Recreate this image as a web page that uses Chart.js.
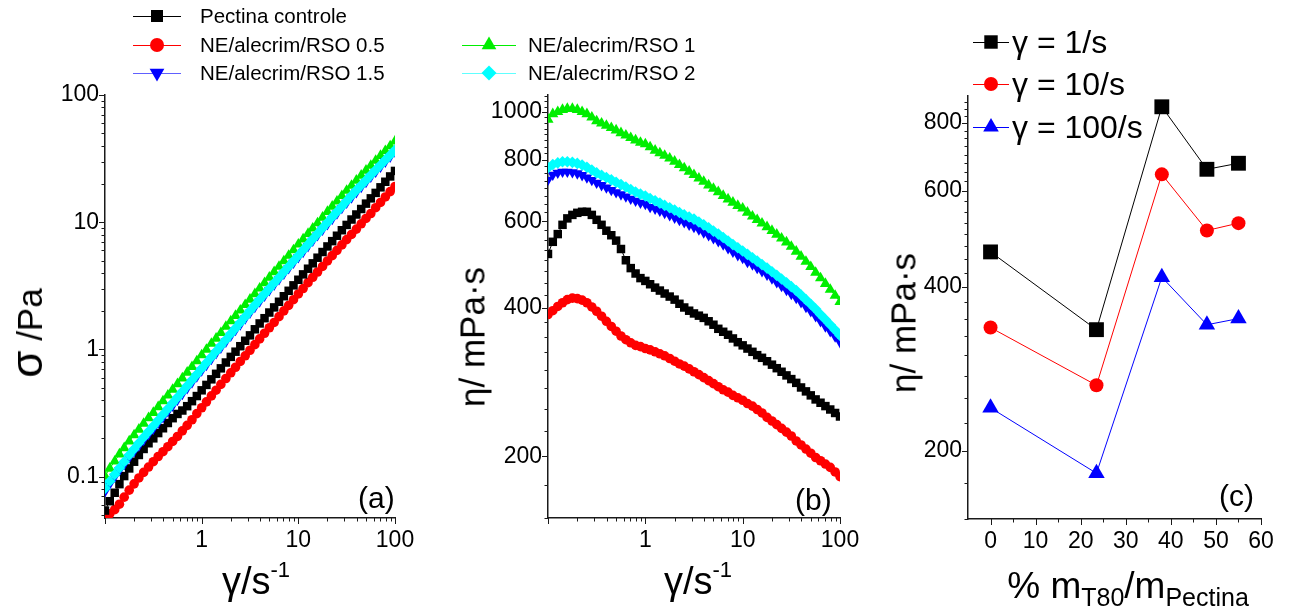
<!DOCTYPE html>
<html>
<head>
<meta charset="utf-8">
<script src="https://cdn.jsdelivr.net/npm/chart.js@4.4.1/dist/chart.umd.min.js"></script>
<style>
  body { margin: 0; background: #fff; }
  #wrap { position: relative; width: 1289px; height: 609px; overflow: hidden;
          font-family: "Liberation Sans", Arial, sans-serif; color: #000; }
  .layer { position: absolute; left: 0; top: 0; }
  .t { position: absolute; white-space: nowrap; line-height: 1; }
  .c { transform: translate(-50%, -50%); }
  .rot { transform: translate(-50%, -50%) rotate(-90deg); }
  .leg { position: absolute; white-space: nowrap; line-height: 1; transform: translateY(-50%); }
  .sym { position: absolute; }
</style>
</head>
<body>
<div id="wrap">
  <canvas id="chartA" class="layer" width="1289" height="609"></canvas>
  <canvas id="chartB" class="layer" width="1289" height="609"></canvas>
  <canvas id="chartC" class="layer" width="1289" height="609"></canvas>

  <!-- axis titles -->
  <div class="t rot" style="left:27px;top:333px;font-size:35px"><span style="font-size:44px">σ</span> /Pa</div>
  <div class="t c" style="left:256px;top:581px;font-size:38px">γ/s<sup style="font-size:22px;vertical-align:0;position:relative;top:-17px">-1</sup></div>
  <div class="t rot" style="left:472px;top:337px;font-size:35px">η/ mPa·s</div>
  <div class="t c" style="left:698px;top:581px;font-size:38px">γ/s<sup style="font-size:22px;vertical-align:0;position:relative;top:-17px">-1</sup></div>
  <div class="t rot" style="left:903px;top:323px;font-size:35px">η/ mPa·s</div>
  <div class="t c" style="left:1128px;top:585px;font-size:37px">% m<sub style="font-size:25px;vertical-align:0;position:relative;top:8px">T80</sub>/m<sub style="font-size:25px;vertical-align:0;position:relative;top:8px">Pectina</sub></div>

  <!-- panel labels -->
  <div class="t" style="left:358px;top:483px;font-size:30px">(a)</div>
  <div class="t" style="left:795px;top:485px;font-size:30px">(b)</div>
  <div class="t" style="left:1219px;top:481px;font-size:30px">(c)</div>

  <div id="legends"></div>
</div>

<script>
// ── shear-rate sweep (s^-1), panels (a) and (b) ──
const shearRate = [0.1,0.112,0.126,0.141,0.158,0.178,0.2,0.224,0.251,0.282,0.316,0.355,0.398,0.447,0.501,0.562,0.631,0.708,0.794,0.891,
  1,1.12,1.26,1.41,1.58,1.78,2,2.24,2.51,2.82,3.16,3.55,3.98,4.47,5.01,5.62,6.31,7.08,7.94,8.91,
  10,11.2,12.6,14.1,15.8,17.8,20,22.4,25.1,28.2,31.6,35.5,39.8,44.7,50.1,56.2,63.1,70.8,79.4,89.1,100];

// ── shear stress σ (Pa), panel (a) ──
const sigmaPectina = [0.0541,0.0641,0.0747,0.0873,0.101,0.116,0.131,0.148,0.165,0.183,0.200,0.220,0.240,0.264,0.288,0.311,0.331,0.358,0.392,0.430,
  0.477,0.526,0.582,0.643,0.710,0.789,0.874,0.960,1.06,1.17,1.29,1.44,1.60,1.76,1.95,2.14,2.37,2.62,2.89,3.19,
  3.53,3.89,4.31,4.75,5.26,5.83,6.45,7.10,7.83,8.65,9.52,10.5,11.5,12.7,14.0,15.4,17.0,18.8,20.8,22.9,25.3];
const sigmaRSO05 = [0.047,0.051,0.055,0.0607,0.069,0.0783,0.0878,0.0976,0.108,0.119,0.131,0.144,0.157,0.172,0.189,0.207,0.229,0.253,0.280,0.313,
  0.348,0.387,0.431,0.478,0.531,0.591,0.655,0.724,0.804,0.891,0.985,1.09,1.21,1.34,1.48,1.63,1.81,2.01,2.22,2.46,
  2.73,3.01,3.35,3.69,4.06,4.49,4.96,5.46,6.01,6.63,7.30,8.01,8.82,9.72,10.7,11.7,13.0,14.3,15.8,17.4,19.1];
const sigmaRSO1 = [0.101,0.116,0.132,0.150,0.168,0.190,0.212,0.235,0.261,0.289,0.318,0.353,0.392,0.436,0.483,0.535,0.594,0.659,0.730,0.810,
  0.903,0.997,1.11,1.22,1.35,1.51,1.67,1.84,2.03,2.24,2.47,2.73,3.02,3.33,3.68,4.06,4.48,4.94,5.46,6.03,
  6.69,7.35,8.12,8.94,9.85,10.9,12.1,13.3,14.6,16.1,17.7,19.4,21.3,23.3,25.5,27.9,30.5,33.3,36.4,39.7,43.3];
const sigmaRSO15 = [0.0764,0.0876,0.0995,0.112,0.125,0.141,0.158,0.175,0.194,0.215,0.238,0.265,0.293,0.326,0.361,0.401,0.446,0.495,0.550,0.612,
  0.683,0.754,0.841,0.933,1.03,1.15,1.28,1.42,1.57,1.75,1.94,2.15,2.38,2.64,2.91,3.22,3.56,3.93,4.34,4.79,
  5.30,5.83,6.48,7.14,7.88,8.73,9.64,10.6,11.7,12.9,14.2,15.6,17.2,18.9,20.7,22.7,24.9,27.3,29.9,32.7,35.8];
const sigmaRSO2 = [0.0809,0.0920,0.104,0.117,0.131,0.148,0.165,0.184,0.204,0.226,0.250,0.277,0.308,0.342,0.379,0.420,0.466,0.517,0.574,0.637,
  0.709,0.784,0.873,0.967,1.07,1.19,1.33,1.47,1.63,1.81,2.01,2.23,2.47,2.73,3.01,3.33,3.68,4.07,4.49,4.96,
  5.48,6.05,6.69,7.37,8.13,9.01,9.95,11.0,12.1,13.3,14.7,16.2,17.8,19.5,21.4,23.5,25.7,28.2,30.9,33.8,37.0];

// ── viscosity η (mPa·s), panel (b) ──
const etaPectina = [515,545,565,590,608,618,624,627,627,618,604,590,574,562,548,527,500,482,470,460,
  454,447,440,434,428,422,416,408,401,395,390,386,382,376,370,363,358,353,347,341,
  336,331,326,321,317,312,307,302,297,292,287,282,276,271,266,261,257,253,249,245,241];
const etaRSO05 = [388,395,403,410,416,419,418,415,410,402,394,385,376,367,359,351,345,340,336,334,
  331,329,326,323,320,316,312,308,305,301,297,293,289,285,281,277,273,270,266,263,
  260,256,253,249,245,240,236,232,228,224,220,215,211,207,203,199,196,193,190,186,182];
const etaRSO1 = [965,990,1000,1010,1015,1015,1010,1000,990,975,958,948,938,928,918,906,896,886,876,866,
  860,848,835,825,815,805,793,781,769,757,745,733,722,710,699,688,676,665,655,645,
  637,625,614,604,594,584,574,564,554,544,533,521,509,497,485,472,460,448,436,424,412];
const etaRSO15 = [728,745,752,756,756,754,750,744,736,727,718,710,702,694,687,680,673,666,660,654,
  650,641,636,630,623,617,610,603,597,590,584,577,569,562,554,546,538,529,520,512,
  505,496,490,482,475,467,459,451,443,435,427,419,411,402,394,385,376,367,359,350,341];
const etaRSO2 = [770,782,788,792,792,790,786,780,772,762,752,744,736,728,720,712,704,696,688,681,
  675,667,660,653,646,639,632,625,618,612,606,598,590,582,573,565,556,547,538,530,
  522,514,506,498,490,482,474,466,458,450,442,434,425,416,407,398,388,379,370,361,352];

// ── panel (c): η vs % T80 at three shear rates ──
const t80Percent = [0, 23.5, 38, 48, 55];
const eta1s   = [464, 334, 857, 658, 675];
const eta10s  = [337, 264, 644, 508, 524];
const eta100s = [240, 182, 417, 341, 350];

// ── labels / tick labels ──
const seriesNames = ['Pectina controle', 'NE/alecrim/RSO 0.5', 'NE/alecrim/RSO 1', 'NE/alecrim/RSO 1.5', 'NE/alecrim/RSO 2'];
const rateNames   = ['γ = 1/s', 'γ = 10/s', 'γ = 100/s'];
const gammaTicks  = [1, 10, 100];
const sigmaTicks  = [0.1, 1, 10, 100];
const etaTicksB   = [200, 400, 600, 800, 1000];
const etaTicksC   = [200, 400, 600, 800];
const t80Ticks    = [0, 10, 20, 30, 40, 50, 60];

// ── styles ──
const FONT = '"Liberation Sans", Arial, sans-serif';
const AXIS = '#1a1a1a';
const STYLE = [
  { color: '#000000', line: '#000000', pointStyle: 'rect',     radius: 6.0, rotation: 0,   order: 2 },
  { color: '#ff0000', line: '#ff0000', pointStyle: 'circle',   radius: 4.8, rotation: 0,   order: 2 },
  { color: '#00ee00', line: '#00ee00', pointStyle: 'triangle', radius: 6.4, rotation: 0,   order: 2 },
  { color: '#0000ff', line: '#6060ff', pointStyle: 'triangle', radius: 6.2, rotation: 180, order: 1 },
  { color: '#00ffff', line: '#60ffff', pointStyle: 'rectRot',  radius: 5.8, rotation: 0,   order: 0 },
];
const STYLE_C = [
  { color: '#000000', pointStyle: 'rect',     radius: 10.5 },
  { color: '#ff0000', pointStyle: 'circle',   radius: 7 },
  { color: '#0000ff', pointStyle: 'triangle', radius: 9.5 },
];

// minor log ticks (unlabelled decoration)
function logMinor(lo, hi) {
  const out = [];
  for (let d = lo; d < hi; d *= 10) for (let k = 2; k <= 9; k++) out.push(+(d * k).toPrecision(3));
  return out;
}
function stepTicks(a, b, s, skip) {
  const out = [];
  for (let v = a; v <= b + 1e-9; v += s) if (!skip.includes(v)) out.push(v);
  return out;
}

// ── tick marks plugin: outward major/minor ticks ──
const axisTicks = {
  id: 'axisTicks',
  afterDraw(chart, args, o) {
    const { ctx, chartArea: a, scales: { x, y } } = chart;
    ctx.save();
    ctx.strokeStyle = AXIS;
    ctx.lineWidth = 1;
    ctx.beginPath();
    const vt = (vals, len) => vals.forEach(v => {
      const px = Math.round(x.getPixelForValue(v)) + 0.5;
      if (px < a.left - 1 || px > a.right + 1) return;
      ctx.moveTo(px, a.bottom); ctx.lineTo(px, a.bottom + len);
    });
    const ht = (vals, len) => vals.forEach(v => {
      const py = Math.round(y.getPixelForValue(v)) + 0.5;
      if (py < a.top - 1 || py > a.bottom + 1) return;
      ctx.moveTo(a.left, py); ctx.lineTo(a.left - len, py);
    });
    vt(o.xMajor, 6); vt(o.xMinor, 3.5);
    ht(o.yMajor, 6); ht(o.yMinor, 3.5);
    ctx.stroke();
    ctx.restore();
  }
};

function axis(type, min, max, ticks, fmt, isX, size) {
  return {
    type, min, max,
    afterBuildTicks: s => { s.ticks = ticks.map(v => ({ value: v })); },
    afterFit: s => {
      s.paddingLeft = s.paddingRight = s.paddingTop = s.paddingBottom = 0;
      if (isX) s.height = size; else s.width = size;
    },
    grid: { display: false, drawTicks: true, tickLength: 6 },
    border: { display: true, color: AXIS, width: 1.5 },
    ticks: {
      autoSkip: false, maxRotation: 0, color: '#000',
      padding: isX ? 3 : 0,
      font: { family: FONT, size: 23 },
      callback: fmt,
    },
  };
}

function pad(left, top, right, bottom, yW, xH) {
  return { left: left - yW, top, right: 1289 - right, bottom: 609 - bottom - xH };
}

function lineSet(name, xs, ys, st) {
  return {
    label: name,
    data: xs.map((v, i) => ({ x: v, y: ys[i] })),
    showLine: true,
    borderColor: st.line || st.color,
    borderWidth: 1,
    backgroundColor: st.color,
    pointBackgroundColor: st.color,
    pointBorderColor: st.color,
    pointBorderWidth: 0,
    pointStyle: st.pointStyle,
    pointRadius: st.radius,
    pointRotation: st.rotation || 0,
    order: st.order || 0,
    clip: 0,
  };
}

const common = {
  responsive: false,
  animation: false,
  events: [],
  plugins: { legend: { display: false }, tooltip: { enabled: false } },
};

// ── panel (a) ──
const sigmaSeries = [sigmaPectina, sigmaRSO05, sigmaRSO1, sigmaRSO15, sigmaRSO2];
new Chart(document.getElementById('chartA'), {
  type: 'scatter',
  data: { datasets: sigmaSeries.map((s, i) => lineSet(seriesNames[i], shearRate, s, STYLE[i])) },
  options: {
    ...common,
    layout: { padding: pad(105, 95, 395, 518, 60, 40) },
    plugins: { ...common.plugins,
      axisTicks: { xMajor: [0.1, 1, 10, 100], xMinor: logMinor(0.1, 100),
                   yMajor: [0.1, 1, 10, 100], yMinor: logMinor(0.01, 100) } },
    scales: {
      x: axis('logarithmic', 0.1, 100, gammaTicks, v => String(v), true, 40),
      y: axis('logarithmic', 0.0473, 100, sigmaTicks, v => String(v), false, 60),
    },
  },
  plugins: [axisTicks],
});

// ── panel (b) ──
const etaSeries = [etaPectina, etaRSO05, etaRSO1, etaRSO15, etaRSO2];
new Chart(document.getElementById('chartB'), {
  type: 'scatter',
  data: { datasets: etaSeries.map((s, i) => lineSet(seriesNames[i], shearRate, s, STYLE[i])) },
  options: {
    ...common,
    layout: { padding: pad(548, 95, 840, 518, 60, 40) },
    plugins: { ...common.plugins,
      axisTicks: { xMajor: [0.1, 1, 10, 100], xMinor: logMinor(0.1, 100),
                   yMajor: etaTicksB, yMinor: stepTicks(150, 1075, 25, etaTicksB) } },
    scales: {
      x: axis('logarithmic', 0.1, 100, gammaTicks, v => String(v), true, 40),
      y: axis('logarithmic', 150, 1082, etaTicksB, v => String(v), false, 60),
    },
  },
  plugins: [axisTicks],
});

// ── panel (c) ──
const rateSeries = [eta1s, eta10s, eta100s];
new Chart(document.getElementById('chartC'), {
  type: 'scatter',
  data: { datasets: rateSeries.map((s, i) => {
    const d = lineSet(rateNames[i], t80Percent, s, STYLE_C[i]);
    d.clip = false;
    return d;
  }) },
  options: {
    ...common,
    layout: { padding: pad(968, 96, 1261, 519, 60, 40) },
    plugins: { ...common.plugins,
      axisTicks: { xMajor: t80Ticks, xMinor: [5, 15, 25, 35, 45, 55],
                   yMajor: etaTicksC, yMinor: stepTicks(150, 875, 25, etaTicksC) } },
    scales: {
      x: axis('linear', -5, 60, t80Ticks, v => String(v), true, 40),
      y: axis('logarithmic', 150, 897, etaTicksC, v => String(v), false, 60),
    },
  },
  plugins: [axisTicks],
});

// ── legends (HTML text + drawn symbols) ──
const legendItems = [
  { name: seriesNames[0], st: STYLE[0], lx: 133, lw: 48, tx: 200, y: 16, fs: 20.5, r: 8.5 },
  { name: seriesNames[1], st: STYLE[1], lx: 133, lw: 48, tx: 200, y: 45, fs: 20.5, r: 7 },
  { name: seriesNames[2], st: STYLE[2], lx: 462, lw: 54, tx: 528, y: 45, fs: 20.5, r: 8.5 },
  { name: seriesNames[3], st: STYLE[3], lx: 133, lw: 48, tx: 200, y: 73, fs: 20.5, r: 8.5 },
  { name: seriesNames[4], st: STYLE[4], lx: 462, lw: 54, tx: 528, y: 73, fs: 20.5, r: 7.5 },
  { name: rateNames[0], st: STYLE_C[0], lx: 973, lw: 36, tx: 1012, y: 42, fs: 32, r: 9.5 },
  { name: rateNames[1], st: STYLE_C[1], lx: 973, lw: 36, tx: 1012, y: 84, fs: 32, r: 7 },
  { name: rateNames[2], st: STYLE_C[2], lx: 973, lw: 36, tx: 1012, y: 127, fs: 32, r: 9 },
];
const host = document.getElementById('legends');
legendItems.forEach(it => {
  const h = 24;
  const cv = document.createElement('canvas');
  cv.className = 'sym';
  cv.width = it.lw; cv.height = h;
  cv.style.left = it.lx + 'px';
  cv.style.top = (it.y - h / 2) + 'px';
  host.appendChild(cv);
  const ctx = cv.getContext('2d');
  ctx.strokeStyle = it.st.line || it.st.color;
  ctx.lineWidth = 1;
  ctx.beginPath(); ctx.moveTo(0, h / 2 + 0.5); ctx.lineTo(it.lw, h / 2 + 0.5); ctx.stroke();
  ctx.fillStyle = it.st.color;
  Chart.helpers.drawPoint(ctx, { pointStyle: it.st.pointStyle, radius: it.r, rotation: it.st.rotation || 0, borderWidth: 0 },
    it.lw / 2, h / 2);

  const tx = document.createElement('div');
  tx.className = 'leg';
  tx.style.left = it.tx + 'px';
  tx.style.top = it.y + 'px';
  tx.style.fontSize = it.fs + 'px';
  tx.textContent = it.name;
  host.appendChild(tx);
});
</script>
</body>
</html>
